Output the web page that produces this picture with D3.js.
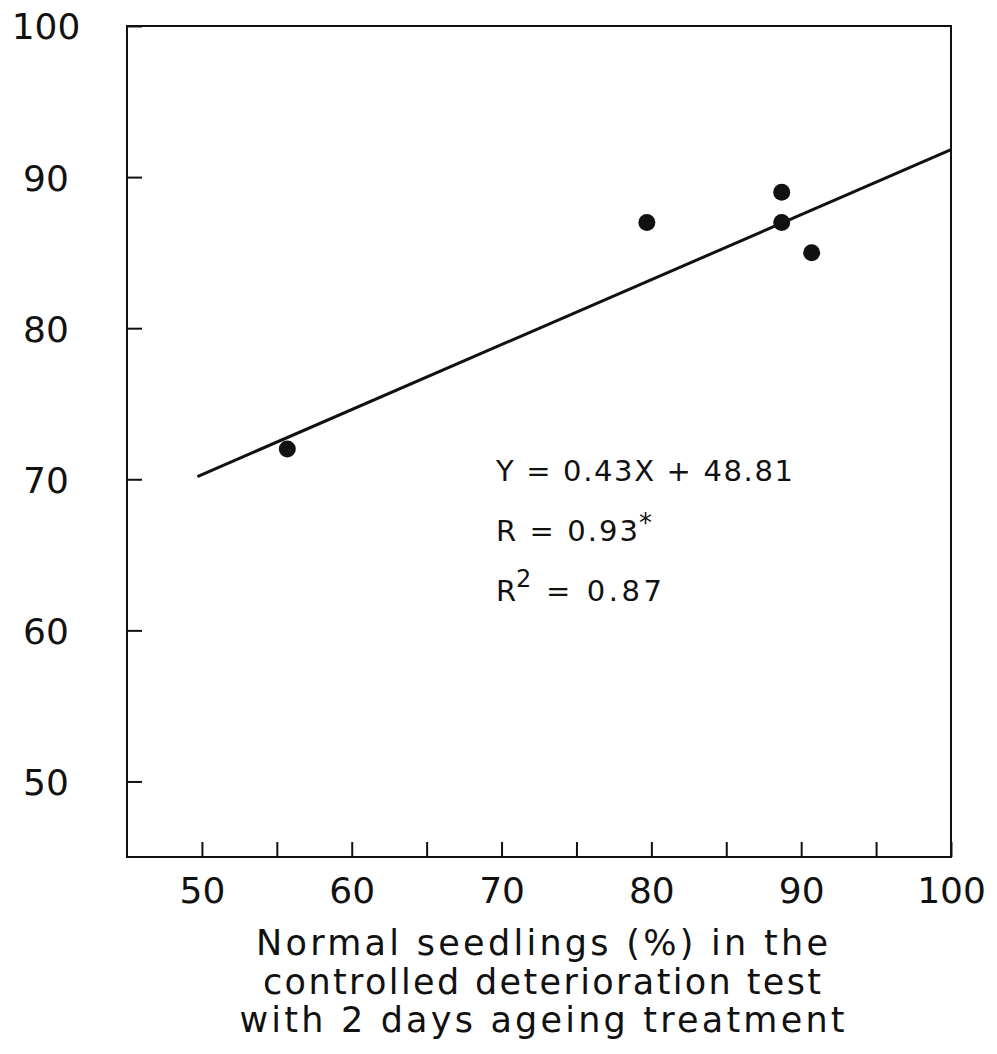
<!DOCTYPE html>
<html>
<head>
<meta charset="utf-8">
<script src="https://cdn.jsdelivr.net/npm/d3@7"></script>
<style>
  html, body { margin: 0; padding: 0; background: #fff; }
  svg { display: block; }
  text { font-family: "DejaVu Sans", "Liberation Sans", sans-serif; fill: #111; }
</style>
</head>
<body>
<svg id="chart" width="997" height="1054"></svg>
<script>
// Normal seedlings (%) in the controlled deterioration test (x) vs. response (y)
const seedlingsCDT = [55.7, 79.7, 88.7, 88.7, 90.7];
const responseValues = [72, 87, 89, 87, 85];

// Tick values
const xTickValues = [50, 55, 60, 65, 70, 75, 80, 85, 90, 95, 100];
const xTickLabels = ["50", "", "60", "", "70", "", "80", "", "90", "", "100"];
const yTickValues = [50, 60, 70, 80, 90, 100];
const yTickLabels = ["50", "60", "70", "80", "90", "100"];

// Fitted regression Y = 0.43X + 48.81
const fitSlope = 0.43;
const fitIntercept = 48.81;
const fitRange = [49.7, 100];

const xTitleLines = [
  "Normal seedlings (%) in the",
  "controlled deterioration test",
  "with 2 days ageing treatment"
];

const svg = d3.select("#chart");
const plotLeft = 127, plotRight = 951, plotTop = 26, plotBottom = 857;

const x = d3.scaleLinear().domain([45, 100]).range([plotLeft, plotRight]);
const y = d3.scaleLinear().domain([45, 100]).range([plotBottom, plotTop]);

// Frame
svg.append("rect")
  .attr("x", plotLeft).attr("y", plotTop)
  .attr("width", plotRight - plotLeft).attr("height", plotBottom - plotTop)
  .attr("fill", "none").attr("stroke", "#111").attr("stroke-width", 2);

// X axis: inward ticks every 5, labels every 10
const xAxis = d3.axisBottom(x)
  .tickValues(xTickValues)
  .tickSize(-15)
  .tickPadding(20)
  .tickFormat((d, i) => xTickLabels[i]);
const gx = svg.append("g").attr("transform", `translate(0,${plotBottom})`).call(xAxis);
gx.select(".domain").remove();
gx.selectAll(".tick line").attr("stroke", "#111").attr("stroke-width", 2);
gx.selectAll(".tick text")
  .style("font-family", '"DejaVu Sans", sans-serif')
  .attr("font-size", 36).attr("fill", "#111");

// Y axis: inward ticks every 10, labels centred left of frame
const yAxis = d3.axisLeft(y)
  .tickValues(yTickValues)
  .tickSize(-15)
  .tickFormat((d, i) => yTickLabels[i]);
const gy = svg.append("g").attr("transform", `translate(${plotLeft},0)`).call(yAxis);
gy.select(".domain").remove();
gy.selectAll(".tick line").attr("stroke", "#111").attr("stroke-width", 2);
gy.selectAll(".tick text")
  .style("font-family", '"DejaVu Sans", sans-serif')
  .attr("font-size", 36).attr("fill", "#111")
  .attr("text-anchor", "middle")
  .attr("x", 46 - plotLeft)
  .attr("dy", "0.36em");

// Regression line
svg.append("line")
  .attr("x1", x(fitRange[0])).attr("y1", y(fitSlope * fitRange[0] + fitIntercept))
  .attr("x2", x(fitRange[1])).attr("y2", y(fitSlope * fitRange[1] + fitIntercept))
  .attr("stroke", "#111").attr("stroke-width", 3);

// Points
svg.append("g").selectAll("circle")
  .data(seedlingsCDT.map((v, i) => [v, responseValues[i]]))
  .join("circle")
  .attr("cx", d => x(d[0])).attr("cy", d => y(d[1]))
  .attr("r", 8.5).attr("fill", "#111");

// Regression annotation
const ann = svg.append("g").attr("font-size", 29);
ann.append("text").attr("x", 496).attr("y", 481)
  .attr("textLength", 297).attr("lengthAdjust", "spacing")
  .text("Y = 0.43X + 48.81");
ann.append("text").attr("x", 496).attr("y", 541)
  .attr("textLength", 142).attr("lengthAdjust", "spacing")
  .text("R = 0.93");
ann.append("text").attr("x", 639).attr("y", 532)
  .attr("font-size", 26).text("*");
ann.append("text").attr("x", 496).attr("y", 601).text("R");
ann.append("text").attr("x", 516).attr("y", 587).attr("font-size", 24).text("2");
ann.append("text").attr("x", 546).attr("y", 601)
  .attr("textLength", 116).attr("lengthAdjust", "spacing")
  .text("= 0.87");

// X axis title
const title = svg.append("g").attr("font-size", 35).attr("text-anchor", "middle");
const titleWidths = [572, 558, 605];
xTitleLines.forEach((line, i) => {
  title.append("text")
    .attr("x", 542).attr("y", 955 + i * 38.5)
    .attr("textLength", titleWidths[i]).attr("lengthAdjust", "spacing")
    .text(line);
});
</script>
</body>
</html>
